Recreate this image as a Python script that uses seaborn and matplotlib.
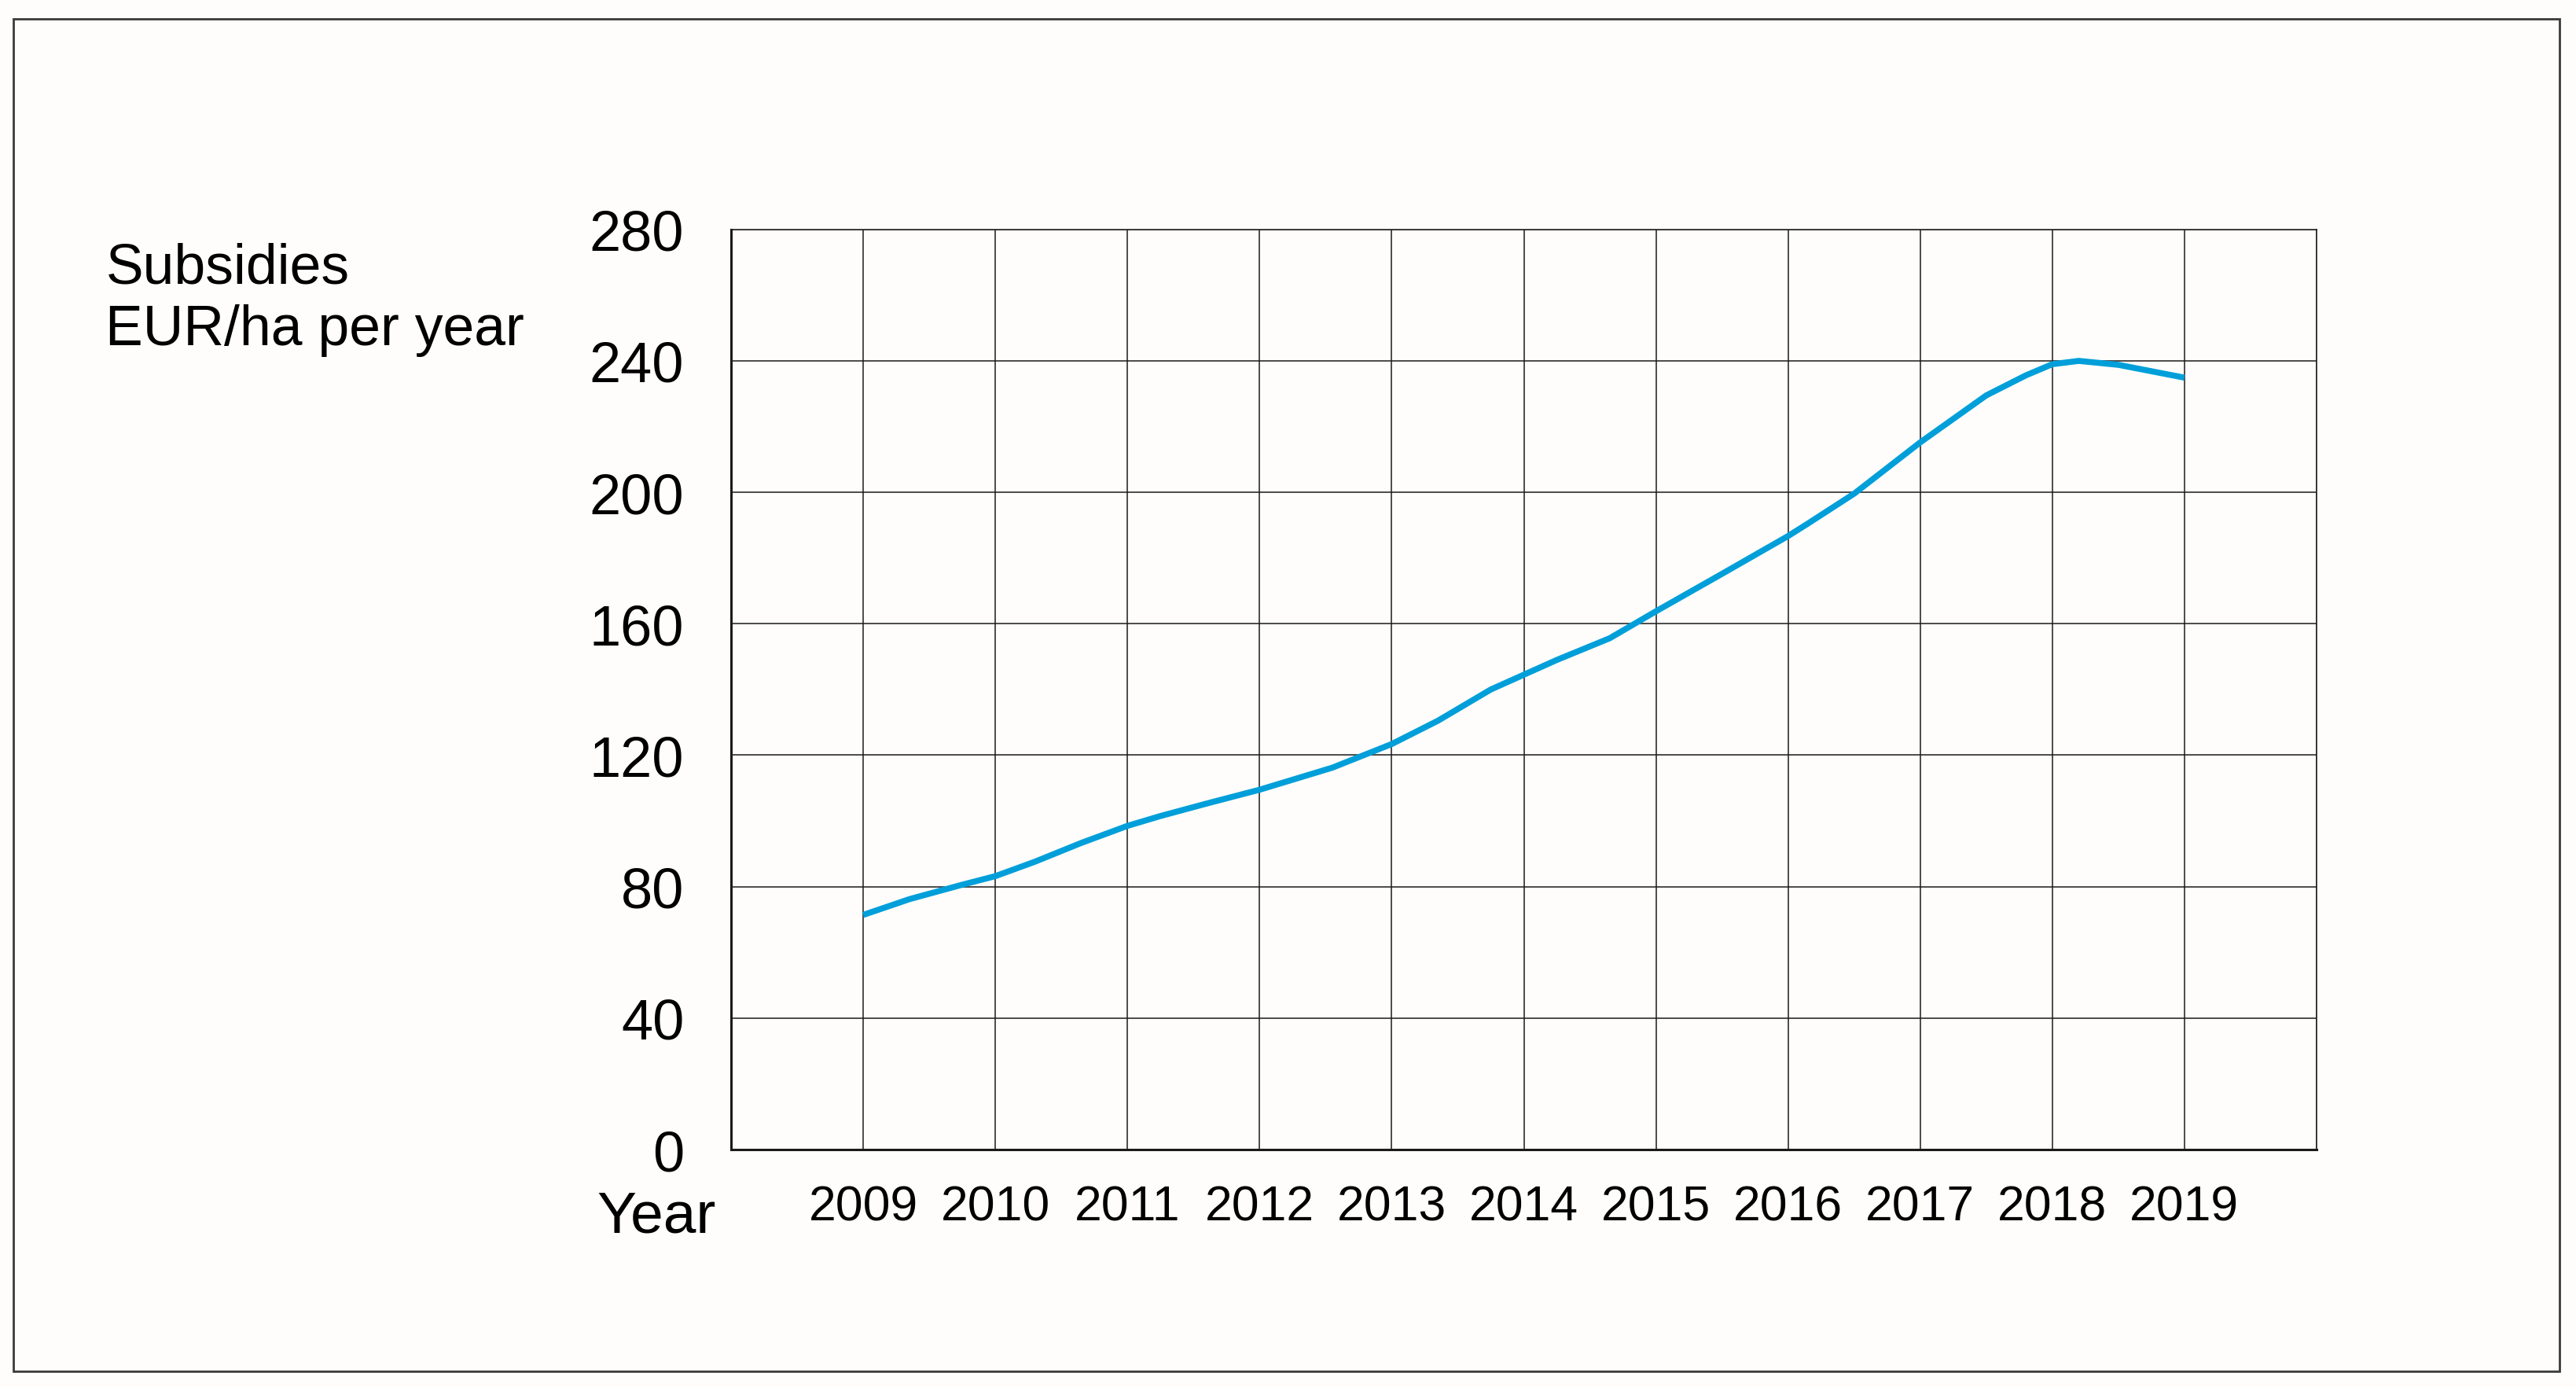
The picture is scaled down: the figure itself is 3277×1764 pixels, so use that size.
import numpy as np
import pandas as pd
import matplotlib
matplotlib.use('Agg')
import matplotlib.pyplot as plt
import matplotlib.patches as mpatches
import seaborn as sns

# ── Data ────────────────────────────────────────────────────────────────────
years = [2009, 2009.35, 2009.75, 2010, 2010.3, 2010.65, 2011, 2011.25, 2011.6,
         2012, 2012.55, 2013, 2013.35, 2013.75, 2014, 2014.25, 2014.65, 2015,
         2015.5, 2016, 2016.15, 2016.5, 2017, 2017.5, 2017.8, 2018, 2018.2,
         2018.5, 2019]
subsidies = [71.4, 76.2, 80.6, 83.2, 87.6, 93.3, 98.5, 101.5, 105.3,
             109.5, 116.2, 123.4, 130.5, 140.0, 144.5, 149.0, 155.6, 163.8,
             175.2, 186.7, 190.5, 199.6, 215.2, 229.5, 235.6, 239.0, 240.0,
             238.8, 234.9]
tick_years = list(range(2009, 2020))
y_ticks = [0, 40, 80, 120, 160, 200, 240, 280]

df = pd.DataFrame({'year': years, 'subsidy': subsidies})

sns.set_style('white')
plt.rcParams['font.family'] = ['Liberation Sans', 'DejaVu Sans']
plt.rcParams['text.color'] = 'black'
plt.rcParams['xtick.color'] = 'black'
plt.rcParams['ytick.color'] = 'black'

fig = plt.figure(figsize=(32.77, 17.65), dpi=100, facecolor='#fefdfb')
ax = fig.add_axes([0.2838, 0.1711, 0.6155, 0.663])
ax.set_facecolor('#fefdfb')

sns.lineplot(data=df, x='year', y='subsidy', ax=ax, color='#009fda',
             linewidth=5.5, sort=True, solid_joinstyle='round',
             solid_capstyle='butt')

# grid
ax.set_xlim(2008, 2020)
ax.set_ylim(0, 280)
for yr in range(2008, 2021):
    ax.axvline(yr, color='#1a1a1a', linewidth=1.1, zorder=0)
for v in y_ticks:
    ax.axhline(v, color='#1a1a1a', linewidth=1.1, zorder=0)

ax.set_xticks(tick_years)
ax.set_xticklabels([str(y) for y in tick_years], fontsize=45)
ax.set_yticks(y_ticks)
ax.set_yticklabels([str(v) for v in y_ticks], fontsize=52)
ax.tick_params(axis='x', length=0, pad=31)
ax.tick_params(axis='y', length=0, pad=43)
ax.set_xlabel('')
ax.set_ylabel('')

for side in ['top', 'right']:
    ax.spines[side].set_color('#1a1a1a')
    ax.spines[side].set_linewidth(1.1)
for side in ['left', 'bottom']:
    ax.spines[side].set_color('#1a1a1a')
    ax.spines[side].set_linewidth(2.2)

# axis titles
fig.text(0.041, 0.796, 'Subsidies', fontsize=51.5, ha='left', va='baseline')
fig.text(0.041, 0.751, 'EUR/ha per year', fontsize=51.5, ha='left', va='baseline')
fig.text(0.2316, 0.112, 'Year', fontsize=54, ha='left', va='baseline')

# outer frame
frame = mpatches.Rectangle((0.0051, 0.0113), 0.9886, 0.9745, transform=fig.transFigure,
                           fill=False, edgecolor='#3a3a3a', linewidth=2.0)
fig.patches.append(frame)

plt.savefig('out.png', dpi=100, facecolor=fig.get_facecolor())
